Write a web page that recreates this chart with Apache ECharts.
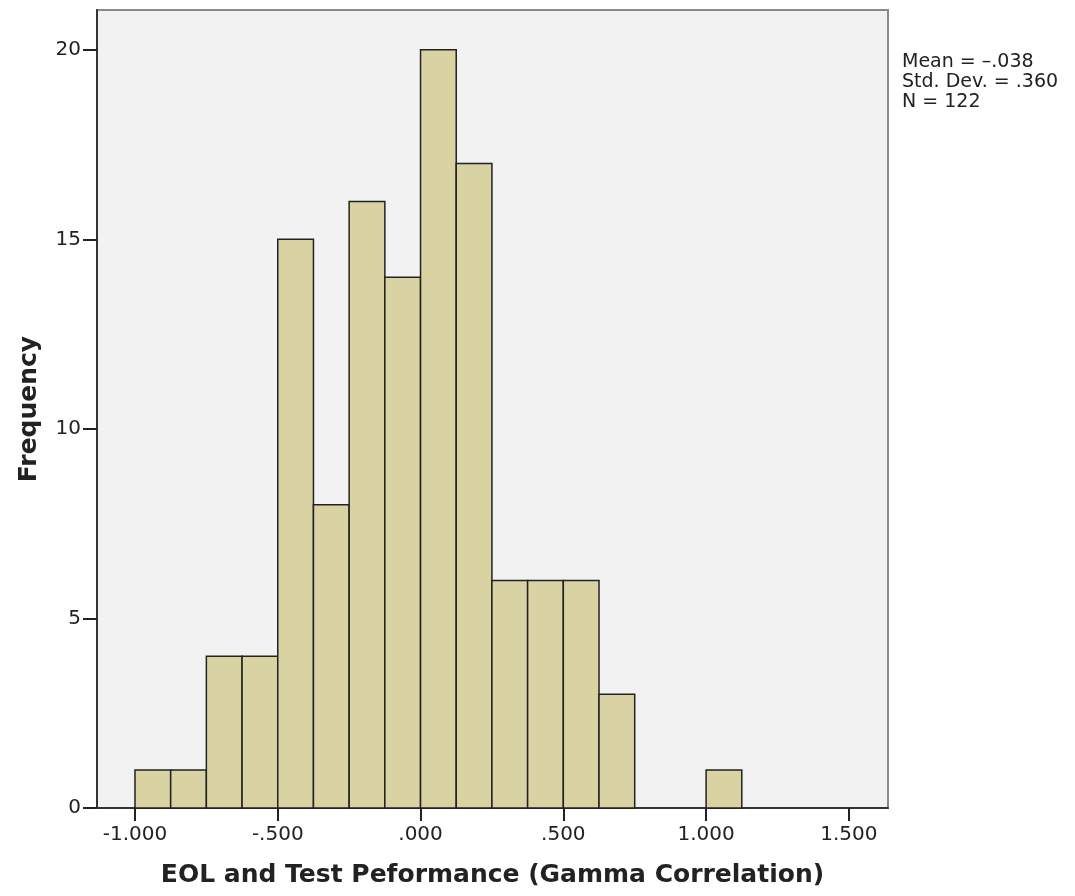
<!DOCTYPE html>
<html lang="en">
<head>
    <meta charset="UTF-8">
    <title>EOL and Test Peformance histogram</title>
    <style>
        html, body { margin: 0; padding: 0; background: #fff; }
        #chart { width: 1075px; height: 896px; }
    </style>
    <script src="https://cdn.jsdelivr.net/npm/echarts@6/dist/echarts.min.js"></script>
</head>
<body>
<div id="chart"></div>
<script>
    // bin edges (lower bound) and counts, bin width .125
    var binStarts = [-1.000, -0.875, -0.750, -0.625, -0.500, -0.375, -0.250, -0.125,
                     0.000, 0.125, 0.250, 0.375, 0.500, 0.625, 0.750, 0.875, 1.000];
    var counts = [1, 1, 4, 4, 15, 8, 16, 14, 20, 17, 6, 6, 6, 3, 0, 0, 1];
    var binWidth = 0.125;
    var xTicks = [-1, -0.5, 0, 0.5, 1, 1.5];
    var xTickLabels = ['-1.000', '-.500', '.000', '.500', '1.000', '1.500'];
    var yTicks = [0, 5, 10, 15, 20];
    var statLines = ['Mean = \u2013.038', 'Std. Dev. = .360', 'N = 122'];

    var data = [];
    for (var i = 0; i < binStarts.length; i++) {
        if (counts[i] > 0) data.push([binStarts[i], binStarts[i] + binWidth, counts[i]]);
    }

    var font = '"DejaVu Sans", "Noto Sans", sans-serif';
    var chart = echarts.init(document.getElementById('chart'));
    chart.setOption({
        backgroundColor: '#ffffff',
        animation: false,
        // summary statistics box at the right of the plot
        title: {
            text: statLines.join('\n'),
            left: 902,
            top: 52,
            padding: 0,
            textStyle: { fontFamily: font, fontSize: 19, fontWeight: 'normal', color: '#222', lineHeight: 20 }
        },
        grid: {
            left: 97, right: 187, top: 10, bottom: 88,
            show: true, backgroundColor: '#f2f2f2', borderColor: '#8a8a8a', borderWidth: 2
        },
        xAxis: {
            type: 'value',
            min: -1.133, max: 1.637,
            name: 'EOL and Test Peformance (Gamma Correlation)',
            nameLocation: 'middle',
            nameGap: 55,
            nameTextStyle: { fontFamily: font, fontSize: 25, fontWeight: 'bold', color: '#222' },
            axisLine: { show: true, onZero: false, lineStyle: { color: '#333', width: 2 } },
            axisTick: { show: true, length: 13, inside: false, customValues: xTicks, lineStyle: { color: '#222', width: 2 } },
            axisLabel: {
                customValues: xTicks,
                margin: 17,
                fontFamily: font, fontSize: 20, color: '#222',
                formatter: function (v) {
                    var idx = xTicks.indexOf(Math.round(v * 1000) / 1000);
                    return idx >= 0 ? xTickLabels[idx] : '';
                }
            },
            splitLine: { show: false }
        },
        yAxis: {
            type: 'value',
            min: 0, max: 21.05,
            name: 'Frequency',
            nameLocation: 'middle',
            nameGap: 55,
            nameTextStyle: { fontFamily: font, fontSize: 25, fontWeight: 'bold', color: '#222' },
            axisLine: { show: true, onZero: false, lineStyle: { color: '#333', width: 2 } },
            axisTick: { show: true, length: 14, customValues: yTicks, lineStyle: { color: '#222', width: 2 } },
            axisLabel: { customValues: yTicks, margin: 16, fontFamily: font, fontSize: 20, color: '#222' },
            splitLine: { show: false }
        },
        series: [{
            type: 'custom',
            data: data,
            encode: { x: [0, 1], y: 2 },
            renderItem: function (params, api) {
                var p0 = api.coord([api.value(0), api.value(2)]);
                var p1 = api.coord([api.value(1), 0]);
                return {
                    type: 'rect',
                    shape: { x: p0[0], y: p0[1], width: p1[0] - p0[0], height: p1[1] - p0[1] },
                    style: { fill: '#d9d3a4', stroke: '#222', lineWidth: 1.5 }
                };
            }
        }]
    });
</script>
</body>
</html>
